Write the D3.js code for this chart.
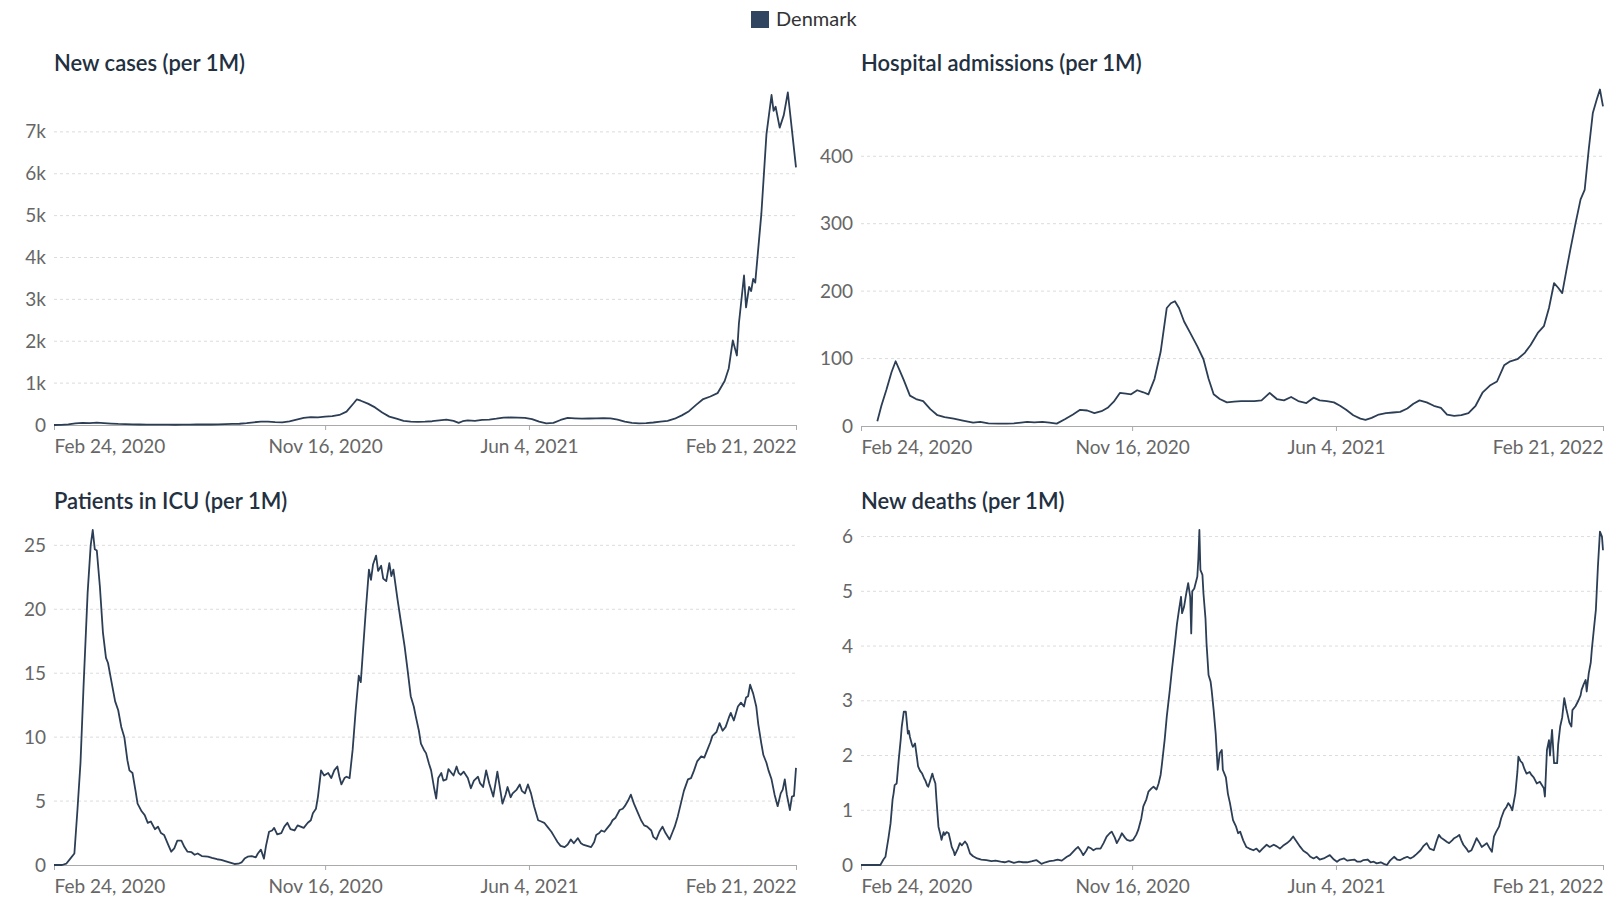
<!DOCTYPE html>
<html><head><meta charset="utf-8">
<script src="https://cdn.jsdelivr.net/npm/d3@7"></script>
<style>
html,body{margin:0;padding:0;background:#fff;}
svg{display:block;font-family:Lato,"Noto Sans",sans-serif;}
</style></head><body>
<svg id="chart" width="1605" height="897"></svg>
<script>
// ---------- DATA ----------
const seriesName = "Denmark";
const startDate = "2020-02-24";
const endDate = "2022-02-21";
const xTickDates = ["2020-02-24", "2020-11-16", "2021-06-04", "2022-02-21"];

// [days since Feb 24 2020, value]
const casesData = [[0,0],[7,3],[14,15],[21,40],[28,50],[35,45],[42,55],[49,45],[56,35],[63,25],[70,20],[77,15],[84,12],[91,8],[98,8],[105,8],[112,7],[119,6],[126,8],[133,10],[140,12],[147,15],[154,12],[161,15],[168,20],[175,25],[182,30],[189,45],[196,65],[203,80],[210,80],[217,70],[224,65],[231,85],[238,130],[245,170],[252,190],[259,180],[266,200],[273,210],[280,240],[287,320],[294,520],[297,610],[301,580],[308,510],[315,420],[322,300],[329,200],[336,150],[343,100],[350,80],[357,75],[364,80],[371,90],[378,110],[385,130],[392,100],[397,50],[401,90],[406,110],[413,100],[420,120],[427,130],[434,150],[441,175],[448,180],[455,175],[462,170],[469,140],[476,80],[483,40],[490,50],[497,120],[504,170],[511,160],[518,150],[525,155],[532,160],[539,165],[546,160],[553,130],[560,80],[567,50],[574,40],[581,45],[588,60],[595,80],[602,100],[609,150],[616,230],[623,330],[630,480],[637,620],[644,680],[651,760],[658,1050],[662,1350],[666,2020],[670,1660],[672,2430],[677,3570],[679,2810],[682,3300],[684,3200],[686,3490],[688,3400],[694,5040],[699,6940],[704,7880],[706,7500],[708,7600],[712,7100],[716,7400],[720,7940],[728,6150]];

const hospData = [[16,7],[20,30],[25,54],[30,80],[34,96],[38,82],[42,68],[48,45],[54,40],[61,37],[68,25],[75,16],[82,13],[91,11],[100,8],[110,5],[117,6],[125,4],[135,3.5],[143,3.5],[150,4],[157,5],[163,6],[170,5.5],[178,6],[185,5],[192,3.5],[200,10],[208,17],[215,24],[222,23],[229,19],[236,22],[242,27],[248,36],[254,49],[260,48],[265,47],[271,53],[277,50],[282,47],[288,70],[294,110],[300,175],[304,182],[308,185],[312,175],[317,155],[323,138],[330,118],[336,99],[341,70],[346,47],[352,40],[359,35],[366,36],[373,37],[379,37],[386,37],[393,38],[401,49],[408,40],[415,38],[422,43],[429,37],[437,34],[444,42],[450,38],[457,37],[464,35],[470,30],[476,24],[483,16],[490,11],[495,9],[501,12],[508,17],[515,19],[522,20],[529,21],[536,26],[542,33],[548,38],[555,35],[562,30],[569,27],[575,17],[582,15],[589,16],[596,19],[603,30],[610,50],[617,60],[624,66],[631,90],[637,96],[644,99],[651,108],[657,120],[664,138],[670,148],[675,175],[680,212],[684,205],[688,197],[692,230],[696,262],[701,300],[706,336],[710,350],[714,410],[718,464],[722,485],[725,499],[728,474]];

const icuData = [[0,0],[8,0],[12,0.1],[16,0.5],[20,0.9],[23,4.3],[26,8],[29,14],[33,21.3],[36,25],[38,26.2],[40,24.7],[42,24.6],[45,21.8],[48,18.2],[51,16.2],[53,15.8],[56,14.5],[60,12.8],[63,12.1],[66,10.8],[69,10],[72,8.2],[74,7.4],[77,7.2],[80,5.8],[82,4.8],[86,4.2],[89,3.9],[92,3.3],[95,3.4],[99,2.8],[102,3.0],[105,2.5],[108,2.35],[112,1.6],[115,1.04],[118,1.3],[121,1.9],[125,1.9],[128,1.4],[131,1.04],[135,1.0],[138,0.8],[141,0.9],[145,0.7],[151,0.65],[155,0.55],[160,0.45],[164,0.4],[168,0.3],[172,0.2],[177,0.08],[181,0.1],[184,0.2],[187,0.5],[190,0.65],[194,0.7],[198,0.6],[200,0.9],[203,1.2],[206,0.5],[208,1.5],[211,2.6],[214,2.7],[216,2.9],[219,2.4],[223,2.5],[226,3.0],[229,3.3],[232,2.8],[236,2.7],[239,3.1],[242,3.0],[245,2.9],[249,3.3],[252,3.5],[254,4.05],[257,4.4],[259,5.35],[262,7.4],[265,7.0],[269,7.2],[272,6.8],[275,7.4],[278,7.7],[280,6.9],[282,6.3],[285,6.8],[287,6.9],[290,6.8],[293,9.0],[296,12.1],[299,14.8],[301,14.3],[303,16.6],[306,20],[309,23.1],[311,22.3],[313,23.5],[316,24.2],[318,23.0],[321,23.4],[323,22.4],[326,22.2],[329,23.6],[331,22.6],[333,23.1],[337,20.8],[340,19.2],[344,17.1],[347,15.2],[350,13.2],[353,12.4],[355,11.6],[358,10.5],[360,9.5],[363,9.0],[365,8.75],[368,7.9],[370,7.4],[373,6.0],[375,5.2],[377,6.8],[380,7.2],[382,6.6],[385,6.7],[387,7.5],[390,7.2],[392,7.0],[395,7.7],[397,7.2],[399,7.05],[402,7.3],[406,6.8],[409,6.0],[412,6.6],[416,6.9],[418,6.4],[421,6.1],[424,7.4],[427,6.4],[431,5.35],[433,6.3],[435,7.3],[438,5.8],[440,4.8],[443,5.5],[445,6.1],[448,5.3],[450,5.6],[454,5.9],[457,6.3],[459,5.8],[462,5.6],[465,6.3],[468,5.6],[471,4.6],[475,3.5],[478,3.4],[481,3.3],[484,3.0],[488,2.6],[491,2.2],[494,1.8],[497,1.5],[501,1.4],[504,1.6],[507,2.0],[510,1.7],[514,2.1],[517,1.7],[519,1.6],[523,1.5],[527,1.4],[530,1.8],[532,2.35],[535,2.5],[537,2.7],[540,2.6],[543,2.9],[546,3.2],[548,3.5],[551,3.7],[555,4.3],[558,4.4],[560,4.6],[563,5.0],[566,5.5],[569,4.8],[573,4.05],[576,3.5],[579,3.1],[582,3.0],[586,2.7],[588,2.2],[591,2.0],[594,2.6],[597,3.0],[600,2.5],[604,2.0],[607,2.6],[609,3.0],[612,3.8],[615,4.8],[618,5.8],[622,6.7],[625,6.8],[628,7.4],[631,8.1],[635,8.5],[638,8.4],[641,9.0],[644,9.6],[646,10.1],[650,10.4],[653,11.1],[656,10.5],[659,10.8],[662,11.5],[664,11.9],[667,11.3],[671,12.4],[674,12.7],[677,12.4],[679,13.1],[681,13.2],[683,14.1],[686,13.4],[689,12.4],[691,11.0],[694,9.5],[696,8.6],[699,8.0],[701,7.4],[704,6.7],[707,5.5],[710,4.6],[713,5.6],[715,5.9],[717,6.7],[719,5.5],[722,4.3],[724,5.35],[726,5.4],[728,7.6]];

const deathsData = [[0,0],[19,0],[22,0.1],[24,0.15],[25,0.27],[27,0.5],[29,0.76],[31,1.2],[32,1.31],[33,1.46],[35,1.49],[37,1.92],[39,2.3],[40,2.53],[42,2.8],[44,2.8],[45,2.6],[46,2.4],[47,2.45],[48,2.34],[50,2.2],[51,2.16],[53,2.22],[55,1.95],[56,1.8],[58,1.72],[60,1.67],[62,1.58],[63,1.55],[65,1.45],[66,1.43],[68,1.55],[70,1.67],[71,1.6],[73,1.49],[74,1.2],[76,0.7],[78,0.55],[79,0.46],[81,0.6],[82,0.55],[84,0.6],[86,0.58],[88,0.42],[89,0.33],[91,0.25],[92,0.18],[95,0.3],[97,0.4],[99,0.36],[102,0.43],[104,0.38],[107,0.21],[110,0.16],[114,0.12],[118,0.1],[123,0.09],[128,0.07],[132,0.08],[137,0.06],[141,0.05],[145,0.07],[150,0.04],[155,0.06],[159,0.05],[163,0.05],[168,0.07],[172,0.09],[175,0.05],[177,0.02],[181,0.05],[185,0.07],[189,0.08],[193,0.1],[197,0.08],[202,0.15],[205,0.18],[208,0.24],[211,0.3],[213,0.33],[216,0.25],[218,0.18],[221,0.26],[223,0.33],[226,0.3],[228,0.27],[231,0.3],[235,0.3],[238,0.4],[241,0.52],[244,0.58],[246,0.61],[249,0.5],[251,0.4],[254,0.5],[256,0.58],[259,0.5],[261,0.46],[264,0.44],[267,0.46],[270,0.55],[272,0.64],[275,0.85],[277,1.07],[280,1.2],[282,1.34],[285,1.4],[287,1.43],[290,1.38],[292,1.49],[294,1.65],[295,1.8],[298,2.3],[300,2.71],[303,3.2],[305,3.56],[308,4.05],[310,4.4],[312,4.66],[314,4.9],[315,4.6],[317,4.72],[319,4.95],[321,5.15],[323,4.9],[324,4.23],[325,5.0],[327,5.05],[330,5.27],[331,5.6],[332,6.12],[333,5.39],[335,5.3],[336,4.96],[338,4.5],[339,4.05],[341,3.47],[343,3.35],[344,3.2],[346,2.83],[348,2.4],[349,2.07],[350,1.74],[352,2.04],[354,2.1],[355,1.74],[358,1.6],[360,1.3],[362,1.13],[365,0.82],[368,0.7],[370,0.58],[372,0.61],[375,0.45],[378,0.33],[381,0.3],[385,0.27],[388,0.3],[391,0.24],[394,0.3],[398,0.37],[401,0.33],[405,0.37],[408,0.34],[411,0.3],[414,0.35],[418,0.4],[421,0.45],[424,0.52],[427,0.44],[431,0.33],[434,0.26],[438,0.21],[441,0.15],[444,0.12],[447,0.15],[450,0.1],[454,0.12],[457,0.15],[460,0.18],[464,0.1],[467,0.06],[470,0.1],[474,0.12],[477,0.08],[480,0.09],[484,0.1],[487,0.06],[490,0.06],[493,0.09],[497,0.1],[500,0.05],[503,0.06],[506,0.03],[510,0.05],[513,0.02],[516,0],[519,0.08],[523,0.15],[526,0.1],[529,0.09],[532,0.12],[536,0.15],[539,0.12],[542,0.15],[545,0.2],[549,0.27],[552,0.35],[555,0.4],[558,0.3],[562,0.27],[565,0.45],[567,0.55],[569,0.5],[572,0.46],[575,0.42],[577,0.4],[580,0.45],[582,0.49],[585,0.52],[587,0.55],[589,0.45],[591,0.37],[594,0.3],[596,0.24],[599,0.27],[602,0.4],[604,0.49],[607,0.4],[609,0.33],[612,0.37],[614,0.4],[617,0.3],[619,0.24],[621,0.52],[623,0.6],[626,0.7],[628,0.85],[631,1.0],[633,1.05],[635,1.13],[637,1.08],[639,1.0],[642,1.31],[644,1.7],[645,1.98],[647,1.9],[649,1.86],[651,1.75],[653,1.67],[656,1.7],[658,1.64],[660,1.6],[663,1.49],[666,1.52],[668,1.46],[670,1.4],[671,1.25],[673,2.1],[675,2.28],[676,2.0],[678,2.47],[680,1.86],[683,1.86],[684,2.2],[686,2.53],[688,2.7],[690,3.05],[692,2.85],[693,2.77],[695,2.6],[697,2.53],[698,2.83],[701,2.9],[704,3.01],[706,3.1],[707,3.2],[709,3.3],[711,3.38],[712,3.17],[714,3.5],[716,3.7],[717,3.93],[719,4.3],[721,4.66],[723,5.45],[725,6.09],[727,6.0],[728,5.75]];

const casesTicks = [0, 1000, 2000, 3000, 4000, 5000, 6000, 7000];
const hospTicks = [0, 100, 200, 300, 400];
const icuTicks = [0, 5, 10, 15, 20, 25];
const deathsTicks = [0, 1, 2, 3, 4, 5, 6];

const titles = ["New cases (per 1M)", "Hospital admissions (per 1M)", "Patients in ICU (per 1M)", "New deaths (per 1M)"];

// ---------- STYLE / LAYOUT ----------
const lineColor = "#2c3e55";
const svg = d3.select("#chart");
const parse = d3.utcParse("%Y-%m-%d");
const t0 = parse(startDate), t1 = parse(endDate);
const DAY = 86400000;
const fmtDate = d3.utcFormat("%b %-d, %Y");

const panels = [
  {title: titles[0], data: casesData, ticks: casesTicks, fmt: v => v === 0 ? "0" : (v / 1000) + "k", x0: 54, x1: 796, yTop: 92.5, yBot: 425, titleY: 71},
  {title: titles[1], data: hospData, ticks: hospTicks, fmt: v => String(v), x0: 861, x1: 1603, yTop: 89.5, yBot: 426, titleY: 71},
  {title: titles[2], data: icuData, ticks: icuTicks, fmt: v => String(v), x0: 54, x1: 796, yTop: 530, yBot: 865, titleY: 509},
  {title: titles[3], data: deathsData, ticks: deathsTicks, fmt: v => String(v), x0: 861, x1: 1603, yTop: 530, yBot: 865, titleY: 509}
];

// legend
svg.append("rect").attr("x", 751).attr("y", 11).attr("width", 18).attr("height", 17).attr("fill", "#2f4560");
svg.append("text").attr("x", 776).attr("y", 26).attr("font-size", 20).attr("fill", "#333").text(seriesName);

panels.forEach(p => {
  const g = svg.append("g");
  const x = d3.scaleUtc().domain([t0, t1]).range([p.x0, p.x1]);
  const y = d3.scaleLinear().domain([0, d3.max(p.data, d => d[1])]).range([p.yBot, p.yTop]);

  // title
  g.append("text").attr("x", p.x0).attr("y", p.titleY)
    .attr("font-size", 22).attr("font-weight", 600).attr("fill", "#22303f")
    .text(p.title);

  // grid + y labels
  const yAxis = d3.axisLeft(y).tickValues(p.ticks).tickFormat(p.fmt).tickSize(0).tickPadding(8);
  const ya = g.append("g").attr("transform", `translate(${p.x0},0)`).call(yAxis);
  ya.select(".domain").remove();
  ya.selectAll("text").attr("font-size", 19).attr("fill", "#666").attr("font-family", "Lato");
  g.append("g").selectAll("line").data(p.ticks.filter(v => v !== 0)).join("line")
    .attr("x1", p.x0).attr("x2", p.x1)
    .attr("y1", d => y(d)).attr("y2", d => y(d))
    .attr("stroke", "#dcdcdc").attr("stroke-width", 1).attr("stroke-dasharray", "3,3");

  // x axis
  const xTicks = xTickDates.map(parse);
  const xAxis = d3.axisBottom(x).tickValues(xTicks).tickFormat(fmtDate).tickSize(5).tickPadding(10);
  const xa = g.append("g").attr("transform", `translate(0,${p.yBot})`).call(xAxis);
  xa.select(".domain").attr("stroke", "#aaa");
  xa.selectAll(".tick line").attr("stroke", "#aaa");
  xa.selectAll("text").attr("font-size", 19).attr("fill", "#666").attr("font-family", "Lato")
    .attr("text-anchor", (d, i) => i === 0 ? "start" : (i === xTicks.length - 1 ? "end" : "middle"));

  // line
  const line = d3.line()
    .x(d => x(new Date(t0.getTime() + d[0] * DAY)))
    .y(d => y(d[1]));
  g.append("path").datum(p.data)
    .attr("fill", "none").attr("stroke", lineColor).attr("stroke-width", 1.8)
    .attr("stroke-linejoin", "round").attr("d", line);
});
</script>
</body></html>
